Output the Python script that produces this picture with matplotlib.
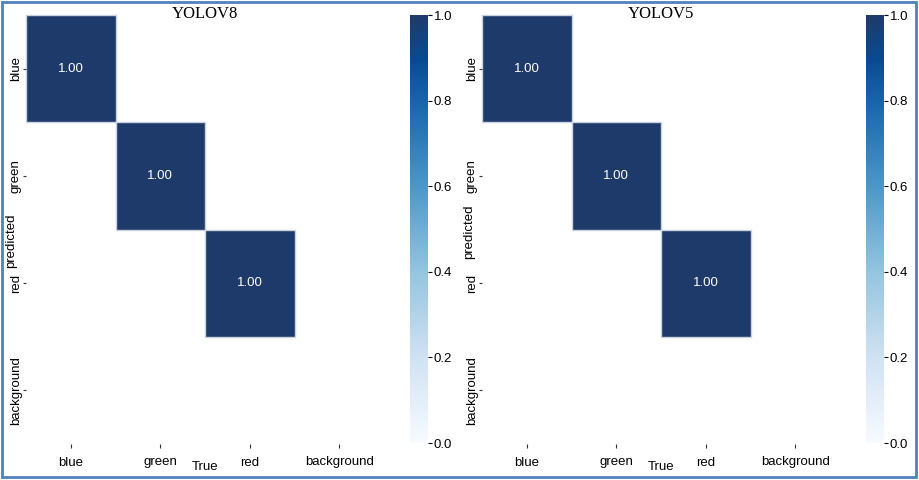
import numpy as np
import matplotlib
matplotlib.use("Agg")
import matplotlib.pyplot as plt
from matplotlib.patches import Rectangle
from matplotlib.colors import LinearSegmentedColormap

classes = ["blue", "green", "red", "background"]
yolov8_matrix = [
    [1.00, 0.00, 0.00, 0.00],
    [0.00, 1.00, 0.00, 0.00],
    [0.00, 0.00, 1.00, 0.00],
    [0.00, 0.00, 0.00, 0.00],
]
yolov5_matrix = [
    [1.00, 0.00, 0.00, 0.00],
    [0.00, 1.00, 0.00, 0.00],
    [0.00, 0.00, 1.00, 0.00],
    [0.00, 0.00, 0.00, 0.00],
]
titles = ["YOLOV8", "YOLOV5"]
cbar_ticks = [0.0, 0.2, 0.4, 0.6, 0.8, 1.0]

base = plt.get_cmap("Blues")
stops = [0.0, 0.2, 0.4, 0.6, 0.8, 0.9]
cmap = LinearSegmentedColormap.from_list(
    "blues_ref", [(s, base(s)) for s in stops] + [(1.0, "#1e3a6b")])

W, H = 919, 480
fig = plt.figure(figsize=(W / 100, H / 100), dpi=100)
plt.rcParams['font.family'] = ['Liberation Sans', 'DejaVu Sans']

def fx(px):
    return px / W

def fy(py):
    return 1 - py / H

panels = [
    dict(x0=26, x1=384, cb0=410, title_x=205, ylab_x=11, ylab_y=241),
    dict(x0=482, x1=840, cb0=866, title_x=661, ylab_x=469, ylab_y=232),
]
top, bot = 15, 444

for mat, title, p in zip([yolov8_matrix, yolov5_matrix], titles, panels):
    arr = np.array(mat, dtype=float)
    arr[arr < 0.005] = np.nan
    ax = fig.add_axes([fx(p["x0"]), fy(bot), fx(p["x1"] - p["x0"]), (bot - top) / H])
    cax = fig.add_axes([fx(p["cb0"]), fy(443), fx(18), (443 - top) / H])
    n = len(classes)
    masked = np.ma.masked_invalid(arr)
    mesh = ax.pcolormesh(np.arange(n + 1), np.arange(n + 1), masked, cmap=cmap,
                         vmin=0.0, vmax=1.0)
    ax.set_xlim(0, n)
    ax.set_ylim(n, 0)
    for i in range(n):
        for j in range(n):
            if not np.isnan(arr[i, j]):
                ax.add_patch(Rectangle((j, i), 1, 1, fill=False, edgecolor="#c9d3e0",
                                       linewidth=1.0, clip_on=False))
                ax.text(j + 0.5, i + 0.5, f"{arr[i, j]:.2f}", ha="center", va="center",
                        color="white", fontsize=9.5)
    for s in ax.spines.values():
        s.set_visible(False)
    ax.set_xticks(np.arange(n) + 0.5)
    ax.set_yticks(np.arange(n) + 0.5)
    ax.set_xticklabels(classes, fontsize=9.5)
    ax.set_yticklabels(classes, fontsize=9.5, rotation=90, va="center")
    ax.tick_params(axis="x", length=3, width=0.8, color="#333333", pad=6)
    ax.tick_params(axis="y", length=2, width=0.8, color="#333333", pad=1)
    ax.set_xlabel("True", fontsize=9.5)
    ax.xaxis.set_label_coords(0.5, -(467 - bot) / (bot - top), transform=ax.transAxes)
    ax.xaxis.label.set_va("center")
    ax.set_ylabel("predicted", fontsize=9.5)
    ax.yaxis.set_label_coords((p["ylab_x"] - p["x0"]) / (p["x1"] - p["x0"]),
                              (bot - p["ylab_y"]) / (bot - top))
    ax.yaxis.label.set_va("center")
    cb = fig.colorbar(mesh, cax=cax, ticks=cbar_ticks)
    cb.outline.set_visible(False)
    cb.ax.tick_params(labelsize=9.5, length=3, width=0.8, pad=1)
    cb.ax.set_yticklabels([f"{t:.1f}" for t in cbar_ticks])
    fig.text(fx(p["title_x"]), fy(14), title, ha="center", va="center",
             fontsize=12, family="Liberation Serif")

fig.add_artist(Rectangle((fx(2), fy(477)), fx(914), (475) / H, transform=fig.transFigure,
                         fill=False, edgecolor="#4f81bd", linewidth=2))

fig.savefig("out.png", dpi=100)
